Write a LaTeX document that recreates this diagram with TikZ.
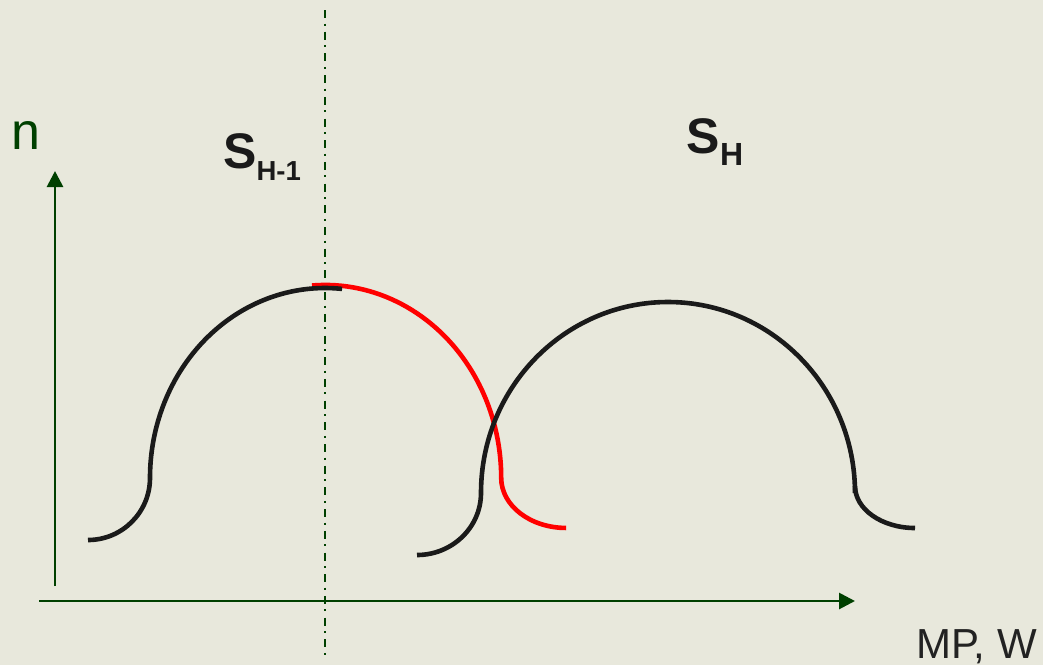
\documentclass[tikz,border=0pt]{standalone}
\usepackage{fontspec}
\setmainfont{Liberation Sans}
\usetikzlibrary{arrows.meta}
\definecolor{bg}{RGB}{232,232,220}
\definecolor{axisgreen}{RGB}{0,64,0}
\definecolor{curveblack}{RGB}{26,26,26}
\definecolor{txt}{RGB}{34,34,34}
\tikzset{
  axisline/.style={draw=axisgreen, line width=2.8pt, -{Triangle[length=16pt,width=16pt]}},
  guideline/.style={draw=axisgreen, line width=1.8pt, dash pattern=on 8pt off 5.5pt on 2pt off 6.2pt},
  blackcurve/.style={draw=curveblack, line width=4.6pt},
  redcurve/.style={draw=red, line width=4.6pt},
  lbl/.style={inner sep=0pt, anchor=base west},
}
\begin{document}
\begin{tikzpicture}[x=1pt,y=-1pt]
\useasboundingbox[fill=bg] (0,0) rectangle (1043,665);
% guide line
\coordinate (gtop) at (325,10);
\coordinate (gbot) at (325,660);
\draw[guideline] (gtop) -- (gbot);
% axes
\coordinate (vbot) at (55,586);
\coordinate (vtop) at (55,171);
\coordinate (hleft) at (39,601);
\coordinate (hright) at (855,601);
\draw[axisline] (vbot) -- (vtop);
\draw[axisline] (hleft) -- (hright);
% red curve
\coordinate (rstart) at (312,285.5);
\draw[redcurve] (rstart) arc[start angle=94.3, end angle=0, x radius=176pt, y radius=193pt]
  arc[start angle=180, end angle=270, x radius=65pt, y radius=50pt];
% left black curve
\coordinate (lstart) at (88,540);
\draw[blackcurve] (lstart) arc[start angle=-90, end angle=0, x radius=62pt, y radius=62pt]
  arc[start angle=180, end angle=84.4, x radius=175pt, y radius=190pt];
% right black curve
\coordinate (rcstart) at (417,555);
\draw[blackcurve] (rcstart) arc[start angle=-90, end angle=0, x radius=64pt, y radius=62pt]
  arc[start angle=180, end angle=0, x radius=187pt, y radius=191pt];
\coordinate (rcfoot) at (855,486);
\draw[blackcurve] (rcfoot) arc[start angle=180, end angle=270, x radius=60pt, y radius=42pt];
% labels
\node[lbl, text=axisgreen, font=\fontsize{52}{52}\selectfont] (n) at (11,149) {n};
\node[lbl, text=curveblack, font=\fontsize{50}{50}\selectfont\bfseries] (sh1) at (223,168)
  {S\raisebox{-12pt}{\fontsize{27.5}{27.5}\selectfont H-1}};
\node[lbl, text=curveblack, font=\fontsize{50}{50}\selectfont\bfseries] (sh) at (686.5,153)
  {S\raisebox{-12pt}{\fontsize{32}{32}\selectfont H}};
\node[lbl, text=txt, font=\fontsize{42}{42}\selectfont] (mpw) at (916,658) {MP, W};
\end{tikzpicture}
\end{document}
